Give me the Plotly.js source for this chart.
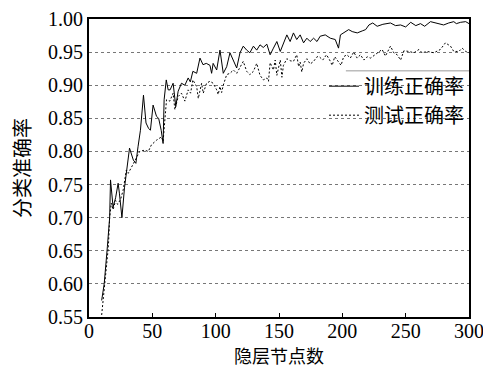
<!DOCTYPE html>
<html>
<head>
<meta charset="utf-8">
<script src="https://cdn.plot.ly/plotly-3.0.1.min.js"></script>
<style>html,body{margin:0;padding:0;background:#fff;}#chart{width:483px;height:369px;}</style>
</head>
<body>
<div id="chart"></div>
<script>
// 训练正确率 (training accuracy)
const trainNodes = [10,12,14.5,16.3,17,19,21,23,24,26,28,30,32,35,37,38.7,40.6,43,45,47,48.5,50.6,53.3,55,57,58.5,59.3,61,62.5,64,66.4,68.5,70.4,73,75.7,78.3,80,82,85,87.6,90,92.6,95.5,96.8,98,100.8,103.4,106,108.7,111.3,114,116.6,119.2,121.8,124.5,127,129.8,132.4,135,137.6,140.4,143,145.6,148.3,151,153.5,156.2,158.8,161.4,164,166.7,169.4,172,174.6,177.3,180,182.5,186.5,190.5,194.4,197,198.5,201,205,207.8,211.8,215.7,218.4,221,224,227.5,232,238,242,246,250,254,258,261.7,265,269.6,275,280,284,288,290,293.4,297.4,300];
const trainAcc = [0.575,0.60,0.656,0.70,0.757,0.716,0.73,0.752,0.737,0.70,0.745,0.775,0.805,0.787,0.782,0.807,0.832,0.885,0.843,0.835,0.832,0.87,0.853,0.85,0.832,0.812,0.878,0.908,0.893,0.893,0.903,0.868,0.891,0.903,0.90,0.911,0.905,0.921,0.918,0.941,0.931,0.933,0.930,0.918,0.933,0.923,0.953,0.918,0.928,0.949,0.936,0.926,0.949,0.959,0.953,0.949,0.959,0.953,0.961,0.957,0.962,0.946,0.956,0.966,0.951,0.964,0.976,0.966,0.979,0.969,0.976,0.964,0.971,0.966,0.971,0.966,0.974,0.976,0.971,0.969,0.956,0.976,0.979,0.984,0.981,0.979,0.982,0.984,0.991,0.994,0.989,0.992,0.994,0.990,0.991,0.988,0.995,0.990,0.993,0.989,0.996,0.993,0.991,0.994,0.996,0.993,0.995,0.996,0.993];

// 测试正确率 (test accuracy)
const testNodes = [10,12.4,15.3,16.3,17.6,19,21,22.6,25,27,29.5,31,33.5,36,40,44,46.8,49.3,53.3,57.2,58.5,61.2,63.8,66.4,67.8,70.4,73,75.7,78.3,80.2,82,85,86.3,88.9,90.2,92.8,95.5,98,100.8,102,103.4,104.7,106,108.7,111.3,114,116.6,119.2,121.8,124.5,127,129.8,132.4,135,137.7,140.4,141.7,143,145.6,147,148.3,151,152.3,153.5,156.2,158.8,161.4,164,165.5,166.7,168,169.4,172,174.6,177.3,180,181.8,184.5,187.5,190,192,194,197,199,201,203.6,206.3,209,211.7,214.3,217,219.6,222.3,227.5,231.4,234,238,240.6,243.3,246,248.6,252.6,256.5,260.5,263,267,272.3,277.4,281.4,285.4,288,292,294.6,297.4,300];
const testAcc = [0.553,0.596,0.656,0.70,0.722,0.712,0.726,0.72,0.728,0.742,0.772,0.767,0.777,0.785,0.80,0.802,0.80,0.81,0.817,0.822,0.815,0.878,0.876,0.888,0.863,0.883,0.888,0.876,0.893,0.888,0.908,0.898,0.88,0.903,0.888,0.903,0.906,0.903,0.893,0.886,0.898,0.889,0.90,0.916,0.918,0.923,0.918,0.926,0.936,0.921,0.916,0.921,0.933,0.915,0.908,0.911,0.906,0.934,0.923,0.938,0.915,0.938,0.912,0.93,0.940,0.937,0.936,0.946,0.928,0.935,0.92,0.933,0.940,0.932,0.936,0.943,0.943,0.938,0.946,0.938,0.930,0.943,0.935,0.930,0.943,0.946,0.941,0.950,0.941,0.946,0.938,0.943,0.941,0.949,0.954,0.944,0.959,0.949,0.946,0.938,0.952,0.951,0.949,0.954,0.949,0.951,0.949,0.954,0.964,0.959,0.951,0.951,0.956,0.951,0.949];

const seriesNames = ['训练正确率', '测试正确率'];
const xTickVals = [0, 50, 100, 150, 200, 250, 300];
const yTickVals = [0.55, 0.60, 0.65, 0.70, 0.75, 0.80, 0.85, 0.90, 0.95, 1.00];
const xTitle = '隐层节点数';
const yTitle = '分类准确率';

const NUMFONT = 'Liberation Serif';
const CJKFONT = 'Noto Sans CJK SC';

const traces = [
  {x: trainNodes, y: trainAcc, name: seriesNames[0], type: 'scatter', mode: 'lines',
   line: {color: '#000', width: 1}},
  {x: testNodes, y: testAcc, name: seriesNames[1], type: 'scatter', mode: 'lines',
   line: {color: '#000', width: 1, dash: '2px,2px'}}
];

const layout = {
  width: 483, height: 369,
  margin: {l: 89, r: 14, t: 19, b: 52},
  paper_bgcolor: '#fff', plot_bgcolor: '#fff',
  font: {family: NUMFONT, size: 20, color: '#000'},
  showlegend: true,
  legend: {x: 1, xanchor: 'right', y: 0.84, yanchor: 'top', bgcolor: 'rgba(0,0,0,0)', borderwidth: 0,
           font: {family: CJKFONT, size: 20, color: '#000'}, tracegroupgap: 0},
  xaxis: {range: [0, 300], tickvals: xTickVals, ticks: 'inside', ticklen: 4, tickcolor: '#000',
          showline: true, linecolor: '#000', linewidth: 2, mirror: true, showgrid: false, zeroline: false,
          ticklabeloverflow: 'allow', ticklabelstandoff: -5,
          tickfont: {family: NUMFONT, size: 20, color: '#000'}},
  yaxis: {range: [0.55, 1.0], tickvals: yTickVals, tickformat: '.2f', ticks: '',
          showline: true, linecolor: '#000', linewidth: 2, mirror: true, zeroline: false,
          showgrid: true, gridcolor: '#777', gridwidth: 1, griddash: '3px,3px',
          tickfont: {family: NUMFONT, size: 20, color: '#000'},
          title: {text: yTitle, font: {family: CJKFONT, size: 20, color: '#000'}, standoff: 12}},
  annotations: [
    {text: xTitle, xref: 'paper', yref: 'paper', x: 0.5, y: -0.1745, xanchor: 'center', yanchor: 'bottom',
     showarrow: false, borderpad: 0, font: {family: CJKFONT, size: 18, color: '#000'}}
  ],
  shapes: [
    {type: 'rect', xref: 'paper', yref: 'paper', x0: 0.61, x1: 1, y0: 0.62, y1: 0.826,
     fillcolor: '#fff', line: {width: 0}, layer: 'between'},
    {type: 'line', xref: 'paper', yref: 'paper', x0: 0.676, x1: 1, y0: 0.826, y1: 0.826,
     line: {color: '#999', width: 1}, layer: 'between'}
  ]
};

Plotly.newPlot('chart', traces, layout, {staticPlot: true, displayModeBar: false});
</script>
</body>
</html>
